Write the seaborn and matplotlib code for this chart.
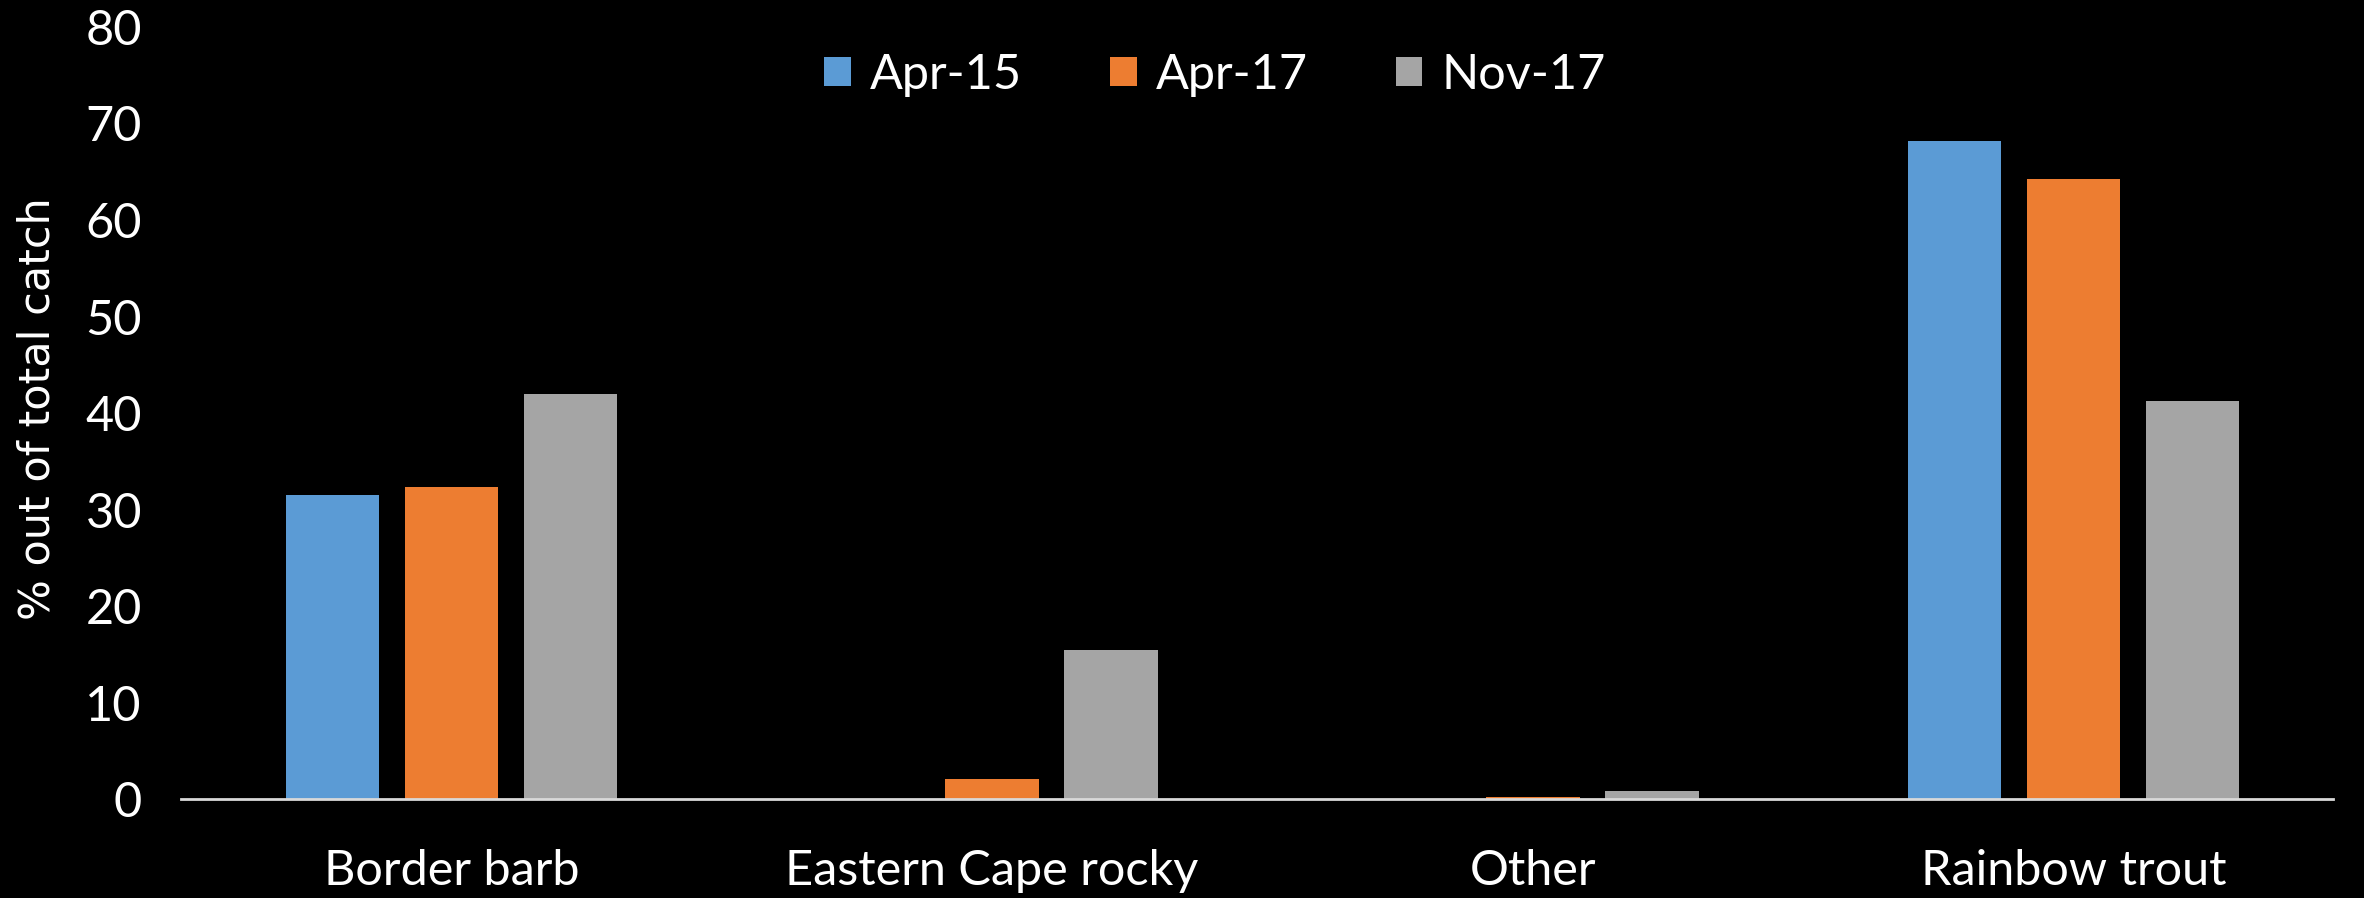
import pandas as pd
import matplotlib.pyplot as plt
import seaborn as sns

# === DATOS ===
species = ["Border barb", "Eastern Cape rocky", "Other", "Rainbow trout"]
surveys = ["Apr-15", "Apr-17", "Nov-17"]
apr15 = [31.5, 0.0, 0.0, 68.2]
apr17 = [32.3, 2.1, 0.25, 64.2]
nov17 = [42.0, 15.5, 0.85, 41.2]
colors = ["#5B9BD5", "#ED7D31", "#A5A5A5"]

df = pd.DataFrame({
    "species": species * 3,
    "survey": [s for s in surveys for _ in species],
    "pct": apr15 + apr17 + nov17,
})

# === FIGURA ===
sns.set_style("dark", {"axes.facecolor": "black", "figure.facecolor": "black"})
plt.rcParams["font.family"] = ["Lato", "DejaVu Sans"]

fig = plt.figure(figsize=(23.64, 8.98), dpi=100, facecolor="black")
ax = fig.add_axes([0.0765, 0.110, 0.9105, 0.860])
ax.set_facecolor("black")

sns.barplot(data=df, x="species", y="pct", hue="survey", hue_order=surveys,
            palette=colors, width=0.66, gap=0.215, saturation=1,
            linewidth=0, edgecolor="none", ax=ax, legend=True)

ax.set_ylim(0, 80)
ax.set_xlim(-0.5, 3.48)
ax.set_yticks(range(0, 81, 10))
ax.grid(False)
for side in ["top", "right", "left"]:
    ax.spines[side].set_visible(False)
ax.spines["bottom"].set_color("#D9D9D9")
ax.spines["bottom"].set_linewidth(2)

ax.tick_params(axis="both", length=0, colors="white", labelsize=35)
ax.tick_params(axis="y", pad=28)
ax.tick_params(axis="x", pad=36)
ax.set_xlabel("")
ax.set_ylabel("")
fig.text(0.016, 0.545, "% out of total catch", rotation=90, color="white",
         fontsize=31, family="DejaVu Sans", ha="center", va="center")

leg = ax.legend(loc="center", bbox_to_anchor=(0.514, 0.917),
                bbox_transform=fig.transFigure, ncol=3, frameon=False,
                fontsize=35, handlelength=0.55, handleheight=0.55,
                handletextpad=0.4, columnspacing=1.8, labelcolor="white")

fig.savefig("out.png", dpi=100, facecolor="black")
